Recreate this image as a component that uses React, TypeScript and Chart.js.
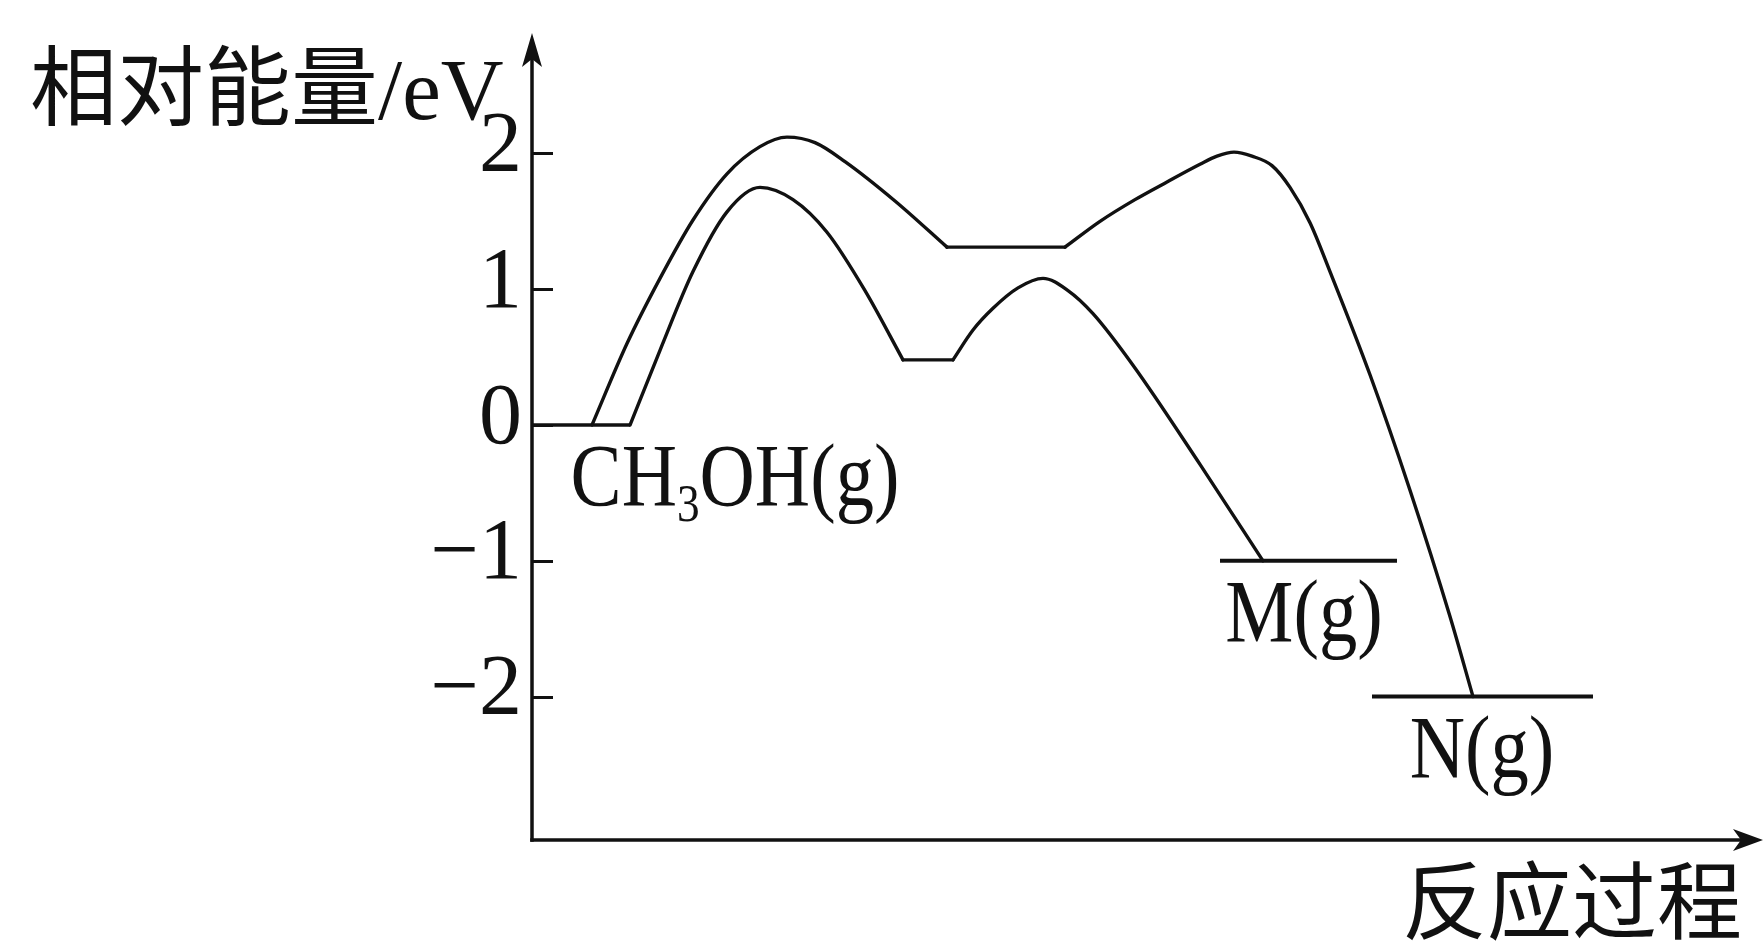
import React, { useEffect, useRef } from "react";
import { Chart, registerables } from "chart.js";

Chart.register(...registerables);

// ---- Data: reaction coordinate (arbitrary units) vs relative energy (eV) ----
const startLevelX = [0, 0.98];
const startLevelY = [0, 0];

const upperRiseX = [0.6, 0.95, 1.28, 1.61, 1.95, 2.28, 2.55, 2.83, 3.13, 3.63, 4.15];
const upperRiseY = [0, 0.6, 1.08, 1.51, 1.85, 2.05, 2.12, 2.08, 1.94, 1.65, 1.31];
const upperPlateauX = [4.15, 5.33];
const upperPlateauY = [1.31, 1.31];
const upperFallX = [5.33, 5.68, 6.03, 6.35, 6.68, 6.85, 7.02, 7.2, 7.4, 7.58, 7.78, 7.98, 8.38, 8.78, 9.18, 9.41];
const upperFallY = [1.31, 1.5, 1.66, 1.79, 1.92, 1.98, 2.01, 1.98, 1.91, 1.75, 1.49, 1.13, 0.37, -0.48, -1.41, -2.0];

const lowerRiseX = [0.98, 1.28, 1.61, 1.95, 2.28, 2.61, 2.95, 3.33, 3.71];
const lowerRiseY = [0, 0.55, 1.13, 1.57, 1.75, 1.66, 1.42, 0.99, 0.48];
const lowerPlateauX = [3.71, 4.21];
const lowerPlateauY = [0.48, 0.48];
const lowerFallX = [4.21, 4.41, 4.61, 4.86, 5.11, 5.36, 5.61, 6.01, 6.68, 7.31];
const lowerFallY = [0.48, 0.7, 0.86, 1.01, 1.08, 0.99, 0.82, 0.44, -0.29, -1.0];

const levelMX = [6.88, 8.65];
const levelMY = [-1, -1];
const levelNX = [8.4, 10.61];
const levelNY = [-2, -2];

const speciesNames = ["CH3OH(g)", "M(g)", "N(g)"];
const speciesX = [2.03, 7.72, 9.5];
const speciesEnergy = [0, -1, -2];

const yTicks = [-2, -1, 0, 1, 2];
const yTitle = "相对能量/eV";
const xTitle = "反应过程";

const Y_MIN = -3.056;
const Y_MAX = 2.887;
const X_MIN = 0;
const X_MAX = 12.31;

// ---- helpers ----
const INK = "#111111";
const SERIF = '"Liberation Serif", "Noto Sans CJK SC", serif';

function pts(xs: number[], ys: number[]) {
  return xs.map((x, i) => ({ x, y: ys[i] }));
}

function fmtTick(v: number) {
  return v < 0 ? "\u2212" + Math.abs(v) : String(v);
}

function splitFormula(s: string) {
  const parts: { t: string; sub: boolean }[] = [];
  let buf = "";
  for (let i = 0; i < s.length; i++) {
    const ch = s[i];
    if (/\d/.test(ch) && i > 0 && /[A-Za-z]/.test(s[i - 1])) {
      if (buf) parts.push({ t: buf, sub: false });
      buf = "";
      let d = ch;
      while (i + 1 < s.length && /\d/.test(s[i + 1])) d += s[++i];
      parts.push({ t: d, sub: true });
    } else {
      buf += ch;
    }
  }
  if (buf) parts.push({ t: buf, sub: false });
  return parts;
}

const decorPlugin = {
  id: "decor",
  afterDatasetsDraw(chart: any) {
    const { ctx, chartArea: a, scales } = chart;
    const xs = scales.x;
    const ys = scales.y;
    ctx.save();
    ctx.strokeStyle = INK;
    ctx.fillStyle = INK;

    // x axis with arrow
    ctx.lineWidth = 3.5;
    ctx.lineCap = "butt";
    ctx.beginPath();
    ctx.moveTo(a.left - 1.75, a.bottom);
    ctx.lineTo(a.right - 20, a.bottom);
    ctx.stroke();
    ctx.beginPath();
    ctx.moveTo(a.right, a.bottom);
    ctx.lineTo(a.right - 30, a.bottom - 11);
    ctx.lineTo(a.right - 22, a.bottom);
    ctx.lineTo(a.right - 30, a.bottom + 11);
    ctx.closePath();
    ctx.fill();

    // y axis with arrow
    ctx.beginPath();
    ctx.moveTo(a.left, a.bottom + 1.75);
    ctx.lineTo(a.left, a.top + 20);
    ctx.stroke();
    ctx.beginPath();
    ctx.moveTo(a.left, a.top);
    ctx.lineTo(a.left - 10, a.top + 34);
    ctx.lineTo(a.left, a.top + 26);
    ctx.lineTo(a.left + 10, a.top + 34);
    ctx.closePath();
    ctx.fill();

    // tick marks (inside)
    ctx.lineWidth = 3;
    ctx.beginPath();
    yTicks.forEach((v) => {
      const py = Math.round(ys.getPixelForValue(v)) + 0.5;
      ctx.moveTo(a.left, py);
      ctx.lineTo(a.left + 21, py);
    });
    ctx.stroke();

    // axis titles
    ctx.textBaseline = "alphabetic";
    ctx.font = `87px ${SERIF}`;
    ctx.textAlign = "left";
    ctx.fillText(yTitle, a.left - 502, a.top + 86);
    ctx.font = `85px ${SERIF}`;
    ctx.textAlign = "right";
    ctx.fillText(xTitle, a.right - 21, a.bottom + 93);

    // species labels beneath their levels
    const sx = 0.87;
    const mainSize = 88;
    const subSize = 52;
    ctx.textAlign = "left";
    speciesNames.forEach((name, i) => {
      const parts = splitFormula(name);
      let w = 0;
      parts.forEach((p) => {
        ctx.font = `${p.sub ? subSize : mainSize}px ${SERIF}`;
        w += ctx.measureText(p.t).width * sx;
      });
      const cx = xs.getPixelForValue(speciesX[i]);
      const base = ys.getPixelForValue(speciesEnergy[i]) + 80;
      let x = cx - w / 2;
      parts.forEach((p) => {
        ctx.font = `${p.sub ? subSize : mainSize}px ${SERIF}`;
        const pw = ctx.measureText(p.t).width;
        ctx.save();
        ctx.translate(x, base + (p.sub ? 16 : 0));
        ctx.scale(sx, 1);
        ctx.fillText(p.t, 0, 0);
        ctx.restore();
        x += pw * sx;
      });
    });
    ctx.restore();
  },
};

export default function App() {
  const ref = useRef<HTMLCanvasElement | null>(null);

  useEffect(() => {
    document.body.style.margin = "0";
    const canvas = ref.current;
    if (!canvas) return;

    const curve = (data: any[]) => ({
      data,
      borderColor: INK,
      borderWidth: 3.4,
      pointRadius: 0,
      fill: false,
      cubicInterpolationMode: "monotone" as const,
      borderCapStyle: "round" as const,
      borderJoinStyle: "round" as const,
    });
    const straight = (data: any[], w: number, cap: "butt" | "round" = "butt") => ({
      data,
      borderColor: INK,
      borderWidth: w,
      pointRadius: 0,
      fill: false,
      tension: 0,
      borderCapStyle: cap,
    });

    const chart = new Chart(canvas, {
      type: "line",
      data: {
        datasets: [
          straight(pts(startLevelX, startLevelY), 3.5),
          curve(pts(upperRiseX, upperRiseY)),
          straight(pts(upperPlateauX, upperPlateauY), 3.4, "round"),
          curve(pts(upperFallX, upperFallY)),
          curve(pts(lowerRiseX, lowerRiseY)),
          straight(pts(lowerPlateauX, lowerPlateauY), 3.4, "round"),
          curve(pts(lowerFallX, lowerFallY)),
          straight(pts(levelMX, levelMY), 4),
          straight(pts(levelNX, levelNY), 4),
        ],
      },
      options: {
        responsive: false,
        devicePixelRatio: 1,
        animation: false,
        events: [],
        layout: { padding: { left: 0, right: 1, top: 33, bottom: 103 } },
        plugins: { legend: { display: false }, tooltip: { enabled: false } },
        scales: {
          x: {
            type: "linear",
            min: X_MIN,
            max: X_MAX,
            display: false,
          },
          y: {
            type: "linear",
            min: Y_MIN,
            max: Y_MAX,
            grid: { display: false, drawTicks: false },
            border: { display: false },
            afterBuildTicks: (scale: any) => {
              scale.ticks = yTicks.map((v) => ({ value: v }));
            },
            afterFit: (scale: any) => {
              scale.width = 532;
              scale.paddingTop = 0;
              scale.paddingBottom = 0;
            },
            ticks: {
              color: INK,
              padding: 10,
              labelOffset: -5,
              font: { family: '"Liberation Serif", serif', size: 86 },
              callback: (v: any) => fmtTick(Number(v)),
            },
          },
        },
      },
      plugins: [decorPlugin],
    });

    return () => chart.destroy();
  }, []);

  return (
    <div style={{ width: 1764, height: 943, background: "#fff" }}>
      <canvas ref={ref} width={1764} height={943} style={{ display: "block" }} />
    </div>
  );
}
